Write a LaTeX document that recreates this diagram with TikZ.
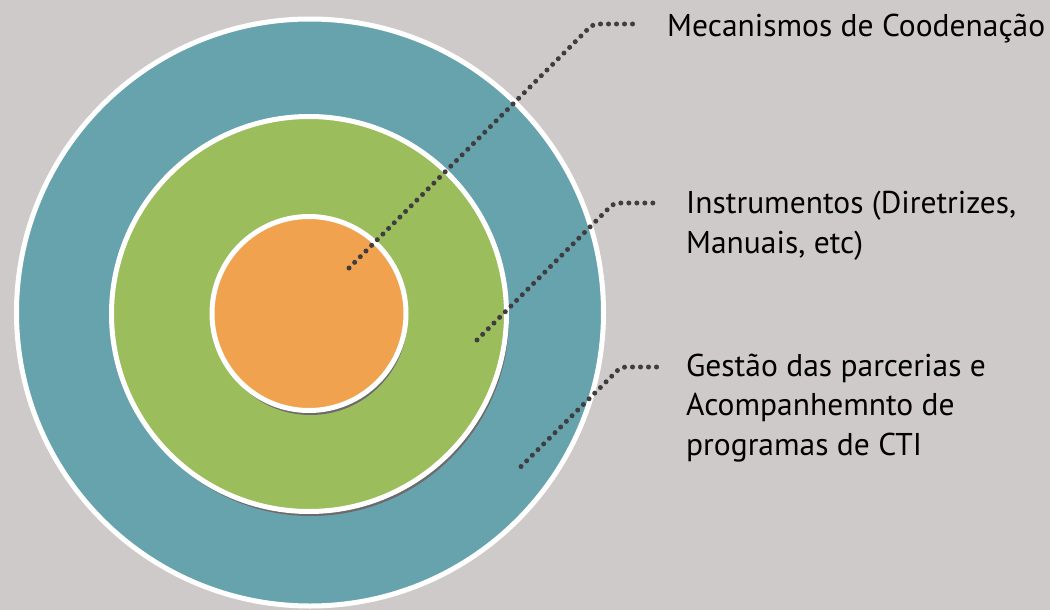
\documentclass[tikz,border=0pt]{standalone}
\usepackage{fontspec}
\setmainfont{PT Sans}
\definecolor{bgcol}{HTML}{CFCACA}
\definecolor{ringteal}{HTML}{66A3AD}
\definecolor{ringgreen}{HTML}{9BBD5C}
\definecolor{coreorange}{HTML}{F0A24F}
\definecolor{shadowcol}{HTML}{6E6A6C}
\definecolor{dotcol}{HTML}{403D40}
\tikzset{
  ring/.style={draw=white, line width=5pt},
  dropshadow/.style={fill=shadowcol},
  leader/.style={dotcol, line width=5pt, line cap=round,
                 dash pattern=on 0pt off 8pt, rounded corners=5pt},
  % base anchor of a multi-line label sits on its last line
  label/.style={anchor=base west, inner sep=0pt, align=left,
                font=\fontsize{31.5}{39.5}\selectfont, text=black}
}
\begin{document}
\begin{tikzpicture}[x=1pt, y=-1pt]
  % canvas
  \fill[bgcol] (0,0) rectangle (1050,610);
  \useasboundingbox (0,0) rectangle (1050,610);

  % concentric rings
  \fill[ring, fill=ringteal] (310,312.5) circle (293.5);
  \fill[dropshadow] (311,318) circle (198);
  \fill[ring, fill=ringgreen] (309,314) circle (197.5);
  \fill[dropshadow] (310.5,318) circle (97);
  \fill[ring, fill=coreorange] (309,313.5) circle (97);

  % labels
  \node[label] (labA) at (667,37) {Mecanismos de Coodenação};
  \node[label] (labB) at (686,253) {Instrumentos (Diretrizes,\\Manuais, etc)};
  \node[label] (labC) at (686,455) {Gestão das parcerias e\\Acompanhemnto de\\programas de CTI};

  % leader points
  \coordinate (dotA) at (349,268);
  \coordinate (bendA) at (593,24);
  \coordinate (endA) at (637,24);
  \coordinate (dotB) at (477,340);
  \coordinate (bendB) at (614,203);
  \coordinate (endB) at (657,203);
  \coordinate (dotC) at (521,466.5);
  \coordinate (bendC) at (621,367);
  \coordinate (endC) at (663,367);

  \draw[leader] (dotA) -- (bendA) -- (endA);
  \draw[leader] (dotB) -- (bendB) -- (endB);
  \draw[leader] (dotC) -- (bendC) -- (endC);
\end{tikzpicture}
\end{document}
